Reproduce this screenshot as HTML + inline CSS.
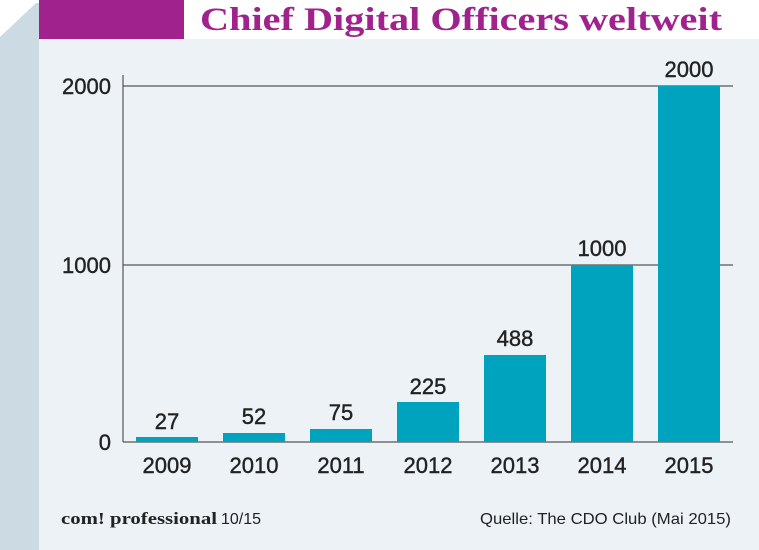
<!DOCTYPE html>
<html><head><meta charset="utf-8"><style>
body{margin:0;width:759px;height:550px;overflow:hidden;background:#fff;font-family:"Liberation Sans",sans-serif}
</style></head><body>
<svg width="759" height="550" xmlns="http://www.w3.org/2000/svg" style="display:block">
<rect width="759" height="550" fill="#fff"/>
<polygon points="0,37 36,3 39,3 39,550 0,550" fill="#cbdae3"/>
<rect x="39" y="39" width="720" height="511" fill="#edf2f7"/>
<rect x="39" y="0" width="145" height="39" fill="#a0228d"/>
<text x="200" y="30" font-family="Liberation Serif,serif" font-weight="bold" font-size="33" fill="#a0228d" textLength="522" lengthAdjust="spacingAndGlyphs">Chief Digital Officers weltweit</text>
<g stroke="#555" stroke-width="1.2">
<line x1="123" y1="86" x2="733" y2="86"/>
<line x1="123" y1="265" x2="733" y2="265"/>
<line x1="123" y1="75" x2="123" y2="442"/>
<line x1="123" y1="442" x2="733" y2="442"/>
</g>
<g fill="#00a3bd">
<rect x="136" y="437" width="62" height="5"/>
<rect x="223" y="433" width="62" height="9"/>
<rect x="310" y="429" width="62" height="13"/>
<rect x="397" y="402" width="62" height="40"/>
<rect x="484" y="355" width="62" height="87"/>
<rect x="571" y="265" width="62" height="177"/>
<rect x="658" y="86" width="62" height="356"/>
</g>
<g font-size="22" fill="#222" text-anchor="end" stroke="#222" stroke-width="0.4">
<text x="111" y="94">2000</text>
<text x="111" y="273">1000</text>
<text x="111" y="450">0</text>
</g>
<g font-size="22" fill="#222" text-anchor="middle" stroke="#222" stroke-width="0.4">
<text x="167" y="429">27</text>
<text x="254" y="424">52</text>
<text x="341" y="420">75</text>
<text x="428" y="394">225</text>
<text x="515" y="346">488</text>
<text x="602" y="256">1000</text>
<text x="689" y="77">2000</text>
<text x="167" y="473">2009</text>
<text x="254" y="473">2010</text>
<text x="341" y="473">2011</text>
<text x="428" y="473">2012</text>
<text x="515" y="473">2013</text>
<text x="602" y="473">2014</text>
<text x="689" y="473">2015</text>
</g>
<text x="61" y="524" font-family="Liberation Serif,serif" font-weight="bold" font-size="17" fill="#222" textLength="156" lengthAdjust="spacingAndGlyphs">com! professional</text>
<text x="221" y="524" font-size="16" fill="#222">10/15</text>
<text x="731" y="524" font-size="16" fill="#222" text-anchor="end" textLength="251" lengthAdjust="spacingAndGlyphs">Quelle: The CDO Club (Mai 2015)</text>
</svg>
</body></html>
